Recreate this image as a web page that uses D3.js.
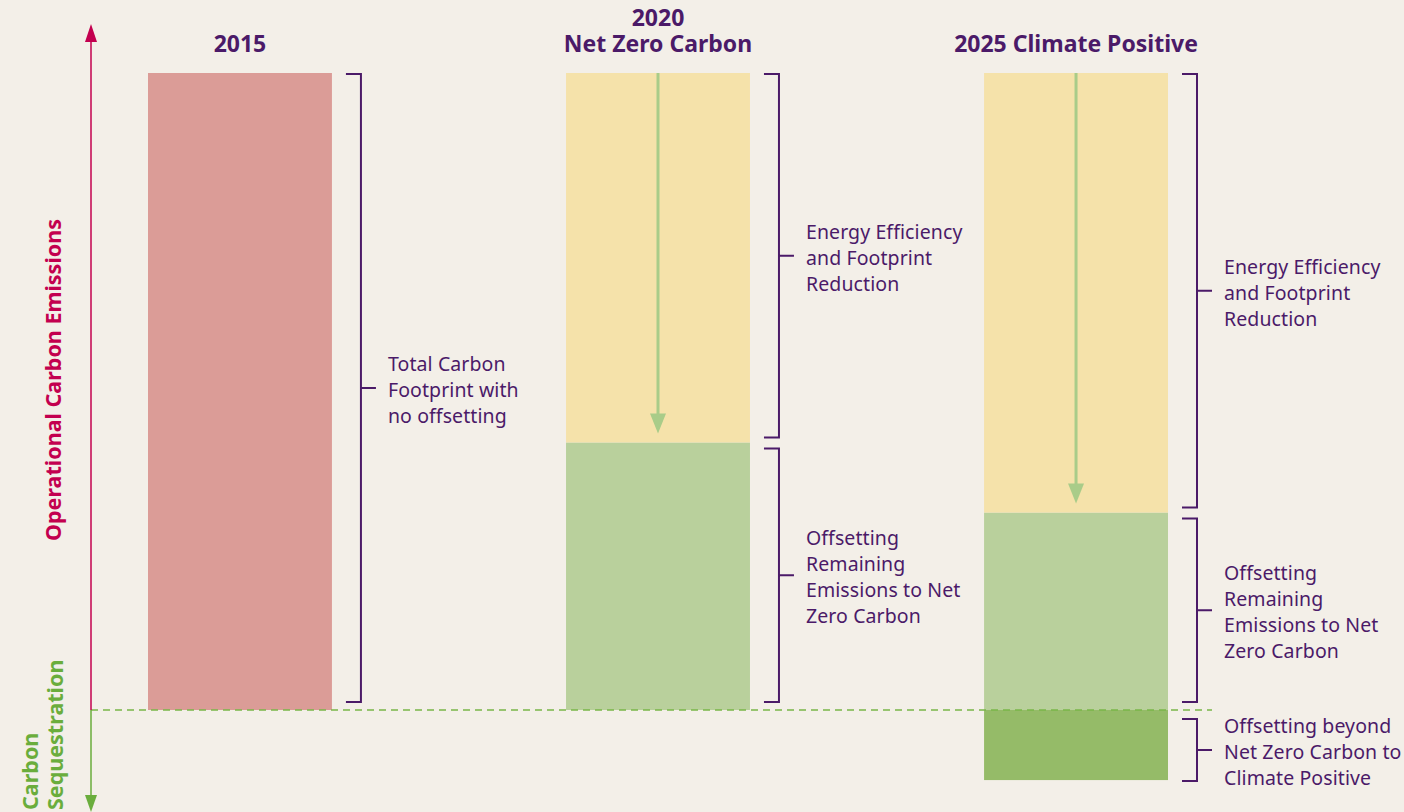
<!DOCTYPE html>
<html>
<head>
<meta charset="utf-8">
<script src="https://cdn.jsdelivr.net/npm/d3@7"></script>
<style>
  body { margin: 0; background: #f3efe8; }
  svg { display: block; font-family: "Noto Sans", sans-serif; }
</style>
</head>
<body>
<div id="chart"></div>
<script>
// columns
let years = ["2015", "2020", "2025"];
let titles = [["2015"], ["2020", "Net Zero Carbon"], ["2025 Climate Positive"]];

// stacked parts of each column (share of the 2015 footprint)
let noOffsetting = [100, 0, 0];
let reduction = [0, 58, 69];
let offsetting = [0, 42, 31];
let beyond = [0, 0, 11];

// bracket texts
let noOffsettingText = ["Total Carbon", "Footprint with", "no offsetting"];
let reductionText = ["Energy Efficiency", "and Footprint", "Reduction"];
let offsettingText = ["Offsetting", "Remaining", "Emissions to Net", "Zero Carbon"];
let beyondText = ["Offsetting beyond", "Net Zero Carbon to", "Climate Positive"];

let w = 1404;
let h = 812;
let purple = "#4b1a68";

let svg = d3.select("#chart").append("svg")
              .attr("width", w)
              .attr("height", h);

let x = d3.scaleBand()
            .domain(years)
            .range([148, 1168])
            .paddingInner(0.56)
            .paddingOuter(0);

let y = d3.scaleLinear()
            .domain([0, 100])
            .range([710, 73]);

// build segments from the arrays
let segments = [];
years.forEach(function(yr, i){
  if(noOffsetting[i] > 0){
    segments.push({year: yr, y0: 0, y1: noOffsetting[i], color: "#db9c97", text: noOffsettingText});
  }
  if(offsetting[i] > 0){
    segments.push({year: yr, y0: 0, y1: offsetting[i], color: "#b9d09c", text: offsettingText});
  }
  if(reduction[i] > 0){
    segments.push({year: yr, y0: offsetting[i], y1: offsetting[i] + reduction[i], color: "#f5e2aa", text: reductionText, arrow: true});
  }
  if(beyond[i] > 0){
    segments.push({year: yr, y0: -beyond[i], y1: 0, color: "#95bb68", text: beyondText});
  }
});

svg.selectAll("rect.seg").data(segments).enter()
      .append("rect")
        .attr("class", "seg")
        .attr("x", d => x(d.year))
        .attr("width", x.bandwidth())
        .attr("y", d => y(d.y1))
        .attr("height", d => y(d.y0) - y(d.y1))
        .attr("fill", d => d.color);

// arrows showing the reduction
let arrows = segments.filter(d => d.arrow);
svg.selectAll("line.arr").data(arrows).enter()
      .append("line")
        .attr("x1", d => x(d.year) + x.bandwidth() / 2)
        .attr("x2", d => x(d.year) + x.bandwidth() / 2)
        .attr("y1", d => y(d.y1))
        .attr("y2", d => y(d.y0) - 26)
        .attr("stroke", "#a9cc89")
        .attr("stroke-width", 3);

svg.selectAll("path.arrhead").data(arrows).enter()
      .append("path")
        .attr("d", function(d){
          let cx = x(d.year) + x.bandwidth() / 2;
          let tip = y(d.y0) - 9;
          return "M" + (cx - 8) + "," + (tip - 20) + "L" + (cx + 8) + "," + (tip - 20) + "L" + cx + "," + tip + "Z";
        })
        .attr("fill", "#a9cc89");

// baseline
svg.append("line")
    .attr("x1", 91)
    .attr("x2", 1212)
    .attr("y1", y(0))
    .attr("y2", y(0))
    .attr("stroke", "#7ab648")
    .attr("stroke-width", 1.5)
    .attr("stroke-dasharray", "7,5");

// brackets
function pad(v){
  if(v == 0) return 8;
  if(v == 100) return 0;
  if(v < 0) return -1;
  return 5;
}

let brackets = svg.selectAll("g.br").data(segments).enter()
      .append("g")
        .attr("class", "br")
        .attr("transform", d => "translate(" + (x(d.year) + x.bandwidth() + 14) + ",0)");

brackets.append("path")
    .attr("d", function(d){
      let top = y(d.y1) + pad(d.y1) + 1;
      let bot = y(d.y0) - pad(d.y0);
      let mid = (top + bot) / 2;
      return "M0," + top + "H15V" + bot + "H0M15," + mid + "H30";
    })
    .attr("fill", "none")
    .attr("stroke", purple)
    .attr("stroke-width", 2);

brackets.each(function(d){
  let top = y(d.y1) + pad(d.y1) + 1;
  let bot = y(d.y0) - pad(d.y0);
  let mid = (top + bot) / 2;
  let n = d.text.length;
  let txt = d3.select(this).append("text")
        .attr("fill", purple)
        .attr("font-size", 19.5)
        .attr("letter-spacing", 0.1);
  txt.selectAll("tspan").data(d.text).enter()
      .append("tspan")
        .attr("x", 42)
        .attr("y", (t, i) => mid + 2 + (i - (n - 1) / 2) * 26)
        .attr("dy", "0.35em")
        .text(t => t);
});

// column titles
years.forEach(function(yr, i){
  let lines = titles[i];
  let t = svg.append("text")
        .attr("text-anchor", "middle")
        .attr("font-size", 23)
        .attr("font-weight", "bold")
        .attr("fill", purple);
  t.selectAll("tspan").data(lines).enter()
      .append("tspan")
        .attr("x", x(yr) + x.bandwidth() / 2)
        .attr("y", (s, j) => 44 - (lines.length - 1 - j) * 26)
        .attr("dy", "0.35em")
        .text(s => s);
});

// vertical axis arrows
svg.append("line")
    .attr("x1", 91).attr("x2", 91)
    .attr("y1", y(0)).attr("y2", 38)
    .attr("stroke", "#c3004f").attr("stroke-width", 1.5);
svg.append("path")
    .attr("d", "M85,42L97,42L91,24Z")
    .attr("fill", "#c3004f");

svg.append("line")
    .attr("x1", 91).attr("x2", 91)
    .attr("y1", y(0)).attr("y2", 796)
    .attr("stroke", "#6aad3c").attr("stroke-width", 1.5);
svg.append("path")
    .attr("d", "M85,795L97,795L91,812Z")
    .attr("fill", "#6aad3c");

svg.append("text")
    .attr("transform", "translate(53,380) rotate(-90)")
    .attr("dy", "0.35em")
    .attr("text-anchor", "middle")
    .attr("font-size", 21.5)
    .attr("font-weight", "bold")
    .attr("fill", "#c3004f")
    .text("Operational Carbon Emissions");

let seqLines = ["Carbon", "Sequestration"];
svg.selectAll("text.seq").data(seqLines).enter()
    .append("text")
      .attr("transform", (t, i) => "translate(" + (30 + i * 25) + ",810) rotate(-90)")
      .attr("dy", "0.35em")
      .attr("text-anchor", "start")
      .attr("font-size", 21.5)
      .attr("font-weight", "bold")
      .attr("fill", "#6aad3c")
      .text(t => t);
</script>
</body>
</html>
